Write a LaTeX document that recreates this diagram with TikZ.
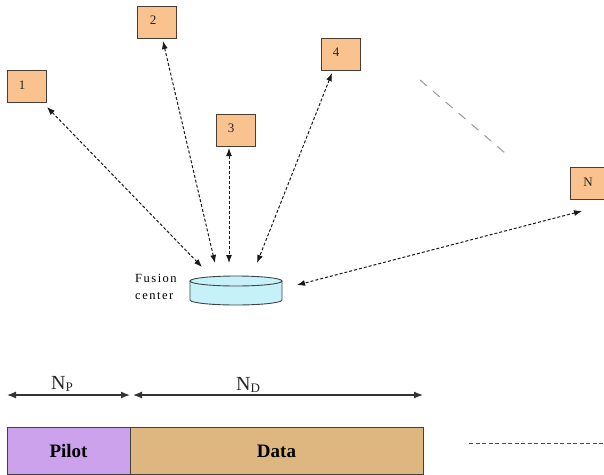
\documentclass[tikz,border=0pt]{standalone}
\usepackage{fontspec}
\setmainfont{Liberation Serif}
\usetikzlibrary{arrows.meta}
\definecolor{boxfill}{HTML}{F9C28F}
\definecolor{boxline}{HTML}{4A3E32}
\definecolor{pilotfill}{HTML}{CCA2EC}
\definecolor{datafill}{HTML}{DEB680}
\definecolor{cylfill}{HTML}{C6F1F9}
\definecolor{cylline}{HTML}{3C4446}
\tikzset{
  sensor/.style={draw=boxline, fill=boxfill, line width=0.9pt, minimum width=39pt, minimum height=32pt, inner sep=0pt},
  lbl/.style={font=\fontsize{13}{13}\selectfont, text=black!85},
  link/.style={draw=black!90, line width=1pt, dash pattern=on 3pt off 2pt, {Latex[length=8pt,width=6pt]}-{Latex[length=8pt,width=6pt]}},
  span/.style={draw=black!80, line width=1.2pt, {Latex[length=9pt,width=7pt]}-{Latex[length=9pt,width=7pt]}},
  field/.style={draw=black!75, line width=1pt, minimum height=47pt, inner sep=0pt, font=\fontsize{19}{19}\selectfont\bfseries},
}
\begin{document}
\begin{tikzpicture}[x=1pt,y=-1pt]
\useasboundingbox (0,0) rectangle (604,474);
% sensors
\node[sensor] (s1) at (26.5,86.5) {};
\node[sensor] (s2) at (157,22) {};
\node[sensor] (s3) at (235.5,130) {};
\node[sensor] (s4) at (340.5,54.5) {};
\node[sensor, minimum width=34pt] (sN) at (587,183.5) {};
\node[lbl] (t1) at (22,85) {1};
\node[lbl] (t2) at (153,20.5) {2};
\node[lbl] (t3) at (231,128.5) {3};
\node[lbl] (t4) at (336,52.5) {4};
\node[lbl] (tN) at (588,182) {N};
% fusion center cylinder
\node[minimum width=92pt, minimum height=30pt, inner sep=0pt] (fc) at (236,290.5) {};
\filldraw[fill=cylfill, draw=cylline, line width=0.9pt]
  (190,281) -- (190,300) arc[start angle=180, end angle=0, x radius=46, y radius=5] -- (282,281) -- cycle;
\filldraw[fill=cylfill, draw=cylline, line width=0.9pt] (236,281) ellipse[x radius=46, y radius=5];
\node[font=\fontsize{12.5}{17}\selectfont\addfontfeatures{LetterSpace=12}, align=left, anchor=west, inner sep=0pt] (fctext) at (135,286.5) {Fusion\\ center};
% connector end points
\coordinate (e1) at (47,107);   \coordinate (f1) at (202,267);
\coordinate (e2) at (163,41);   \coordinate (f2) at (215,263);
\coordinate (e3) at (229,148);  \coordinate (f3) at (229,263);
\coordinate (e4) at (332,73);   \coordinate (f4) at (257,263);
\coordinate (eN) at (582,211);  \coordinate (fN) at (297,285);
\draw[link] (e1) -- (f1);
\draw[link] (e2) -- (f2);
\draw[link] (e3) -- (f3);
\draw[link] (e4) -- (f4);
\draw[link] (eN) -- (fN);
% continuation dashes
\coordinate (g1) at (420,80); \coordinate (g2) at (505,153);
\draw[black!40, line width=1pt, dash pattern=on 9pt off 8pt] (g1) -- (g2);
% frame
\coordinate (a0) at (7,395); \coordinate (a1) at (130,395);
\coordinate (b0) at (133,395); \coordinate (b1) at (423,395);
\draw[span] (a0) -- (a1);
\draw[span] (b0) -- (b1);
\node[font=\fontsize{20}{20}\selectfont, text=black!85] (np) at (62,384) {N\raisebox{-2pt}{\fontsize{13}{13}\selectfont P}};
\node[font=\fontsize{20}{20}\selectfont, text=black!85] (nd) at (248,385) {N\raisebox{-2pt}{\fontsize{13}{13}\selectfont D}};
\node[field, fill=pilotfill, minimum width=123pt] (pilot) at (68.5,451) {Pilot};
\node[field, fill=datafill, minimum width=293pt] (data) at (276.5,451) {Data};
\coordinate (h1) at (469,443); \coordinate (h2) at (604,443);
\draw[black!70, line width=1pt, dash pattern=on 4pt off 2.5pt] (h1) -- (h2);
\end{tikzpicture}
\end{document}
